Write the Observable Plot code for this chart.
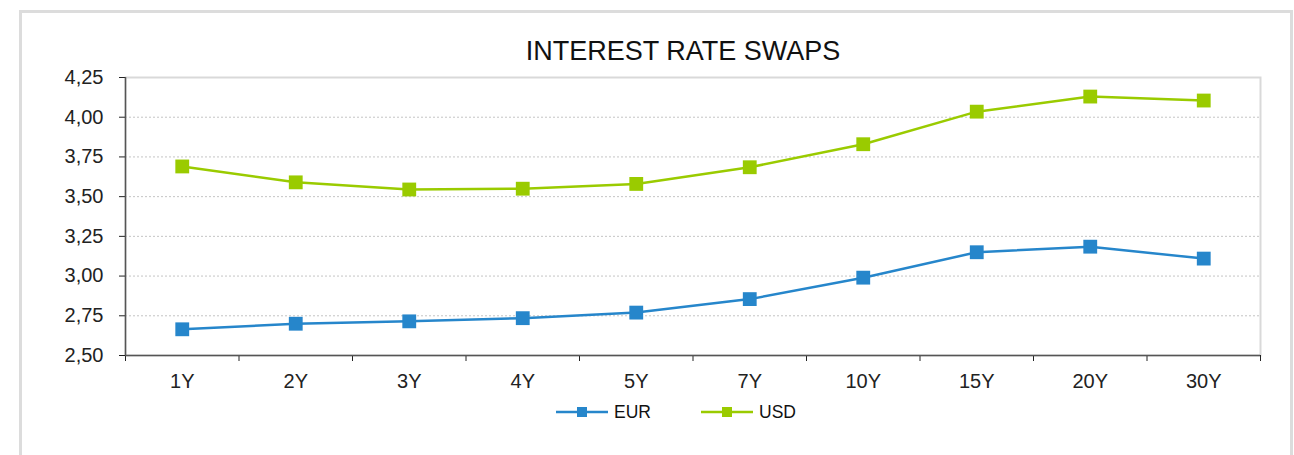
<!DOCTYPE html>
<html><head><meta charset="utf-8">
<script src="https://cdn.jsdelivr.net/npm/d3@7"></script>
<script src="https://cdn.jsdelivr.net/npm/@observablehq/plot@0.6"></script>
<style>
body{margin:0;background:#fff;font-family:"Liberation Sans",Arial,sans-serif;}
#wrap{position:relative;width:1294px;height:455px;overflow:hidden;}
#frame{position:absolute;left:19px;top:10px;width:1268px;height:480px;border:3px solid #dcdcdc;}
#title{position:absolute;left:0;width:1366px;top:36px;text-align:center;font-size:27px;color:#111;line-height:30px;}
#chart{position:absolute;left:0;top:0;}
.item{position:absolute;top:402px;display:flex;align-items:center;font-size:17.5px;color:#111;line-height:20px;}
.item svg{margin-right:6px;}
</style></head>
<body>
<div id="wrap">
  <div id="frame"></div>
  <div id="chart"></div>
  <div id="title">INTEREST RATE SWAPS</div>
  <div id="legend"></div>
</div>
<script>
const tenors = ["1Y","2Y","3Y","4Y","5Y","7Y","10Y","15Y","20Y","30Y"];
const eur = [2.665, 2.70, 2.715, 2.735, 2.77, 2.855, 2.99, 3.15, 3.185, 3.11];
const usd = [3.69, 3.59, 3.545, 3.55, 3.58, 3.685, 3.83, 4.035, 4.13, 4.105];
const seriesNames = ["EUR","USD"];
const seriesColors = ["#2686cb","#9acb00"];
const legendLeft = [556, 701];
const yTicks = [2.5, 2.75, 3.0, 3.25, 3.5, 3.75, 4.0, 4.25];

const rows = [];
tenors.forEach((t,i)=>{
  rows.push({i, tenor:t, series:"EUR", v:eur[i]});
  rows.push({i, tenor:t, series:"USD", v:usd[i]});
});
const idx = d3.range(tenors.length);
const bounds = d3.range(tenors.length + 1).map(k => k - 0.5);
const fmt = d => d3.format(".2f")(d).replace(".", ",");

const chart = Plot.plot({
  width: 1294,
  height: 455,
  marginLeft: 125,
  marginRight: 34,
  marginTop: 77,
  marginBottom: 100,
  style: {background: "transparent", fontFamily: '"Liberation Sans", Arial, sans-serif', fontSize: "20px", color: "#222"},
  x: {type: "linear", domain: [-0.5, tenors.length - 0.5]},
  y: {domain: [2.5, 4.25]},
  color: {domain: seriesNames, range: seriesColors},
  marks: [
    Plot.ruleY(yTicks.slice(1, -1), {stroke: "#c4c4c4", strokeDasharray: "2,2"}),
    Plot.frame({stroke: "#d9d9d9", strokeWidth: 2}),
    Plot.axisY({ticks: yTicks, tickFormat: fmt, tickSize: 6, tickPadding: 16, fontSize: 20, label: null}),
    Plot.axisX({ticks: bounds, tickFormat: () => "", tickSize: 6, label: null}),
    Plot.axisX({ticks: idx, tickFormat: i => tenors[i], tickSize: 0, tickPadding: 18, fontSize: 20, label: null}),
    Plot.ruleX([-0.5], {stroke: "#555", strokeWidth: 1.5}),
    Plot.ruleY([2.5], {stroke: "#555", strokeWidth: 1.5}),
    Plot.line(rows, {x: "i", y: "v", z: "series", stroke: "series", strokeWidth: 2.5}),
    Plot.dot(rows, {x: "i", y: "v", fill: "series", symbol: "square", r: 7.8})
  ]
});
document.getElementById("chart").appendChild(chart);

const legend = document.getElementById("legend");
seriesNames.forEach((name, k) => {
  const it = document.createElement("div");
  it.className = "item";
  it.style.left = legendLeft[k] + "px";
  it.innerHTML = `<svg width="52" height="14"><line x1="0" x2="52" y1="7" y2="7" stroke="${seriesColors[k]}" stroke-width="2.5"/><rect x="21" y="2" width="10" height="10" fill="${seriesColors[k]}"/></svg><span>${name}</span>`;
  legend.appendChild(it);
});
</script>
</body></html>
